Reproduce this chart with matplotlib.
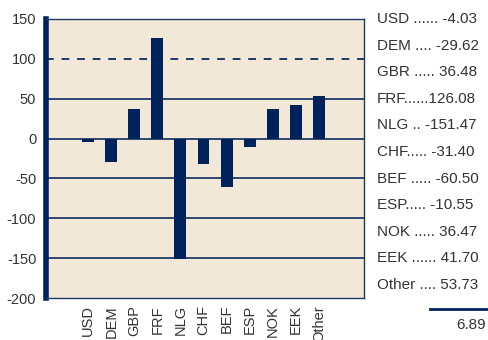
import matplotlib.pyplot as plt
import numpy as np

plt.rcParams['font.family'] = ['Liberation Sans', 'DejaVu Sans']

currencies = ['USD', 'DEM', 'GBP', 'FRF', 'NLG', 'CHF', 'BEF', 'ESP', 'NOK', 'EEK', 'Other']
values = [-4.03, -29.62, 36.48, 126.08, -151.47, -31.40, -60.50, -10.55, 36.47, 41.70, 53.73]
list_lines = ['USD ...... ', 'DEM .... ', 'GBR ..... ', 'FRF......', 'NLG .. ', 'CHF..... ',
              'BEF ..... ', 'ESP..... ', 'NOK ..... ', 'EEK ...... ', 'Other .... ']
yticks = [-200, -150, -100, -50, 0, 50, 100, 150]

navy = '#00225a'
grid = '#1f3a68'
bg = '#f1e8d8'
txt = '#333333'

fig = plt.figure(figsize=(4.89, 3.40), dpi=100)
ax = fig.add_axes([46 / 489, 1 - 298 / 340, 318 / 489, 279 / 340])
ax.set_facecolor(bg)

x = np.arange(len(currencies))
ax.bar(x, values, width=0.52, color=navy, zorder=3)

for y in [-150, -100, -50, 0, 50]:
    ax.axhline(y, color=grid, lw=1.3, zorder=2)
ax.axhline(100, color=grid, lw=1.4, ls=(0, (4, 4)), zorder=2)

ax.set_xlim(-1.83, 11.96)
ax.set_ylim(-200, 150)
ax.set_yticks(yticks)
ax.set_yticklabels([str(t) for t in yticks], fontsize=10.5, color=txt)
ax.set_xticks(x)
ax.set_xticklabels(currencies, rotation=90, fontsize=10.5, color=txt, va='top')
ax.tick_params(length=0, axis='y', pad=7)
ax.tick_params(length=0, axis='x', pad=5)

for s in ['top', 'right', 'bottom']:
    ax.spines[s].set_color(grid)
    ax.spines[s].set_linewidth(1.0)
ax.spines['left'].set_color(navy)
ax.spines['left'].set_linewidth(4)

# listing of values on the right
y0 = 19
step = 26.6
for i, (lbl, v) in enumerate(zip(list_lines, values)):
    fig.text(377 / 489, 1 - (y0 + i * step) / 340, f'{lbl}{v:.2f}',
             fontsize=11, color=txt, va='center', ha='left')

fig.add_artist(plt.Line2D([430 / 489, 488 / 489], [1 - 309 / 340] * 2,
                          color=navy, lw=2, transform=fig.transFigure))
fig.text(486 / 489, 1 - 325 / 340, f'{sum(values):.2f}', fontsize=11, color=txt,
         va='center', ha='right')

fig.savefig('out.png', dpi=100)
